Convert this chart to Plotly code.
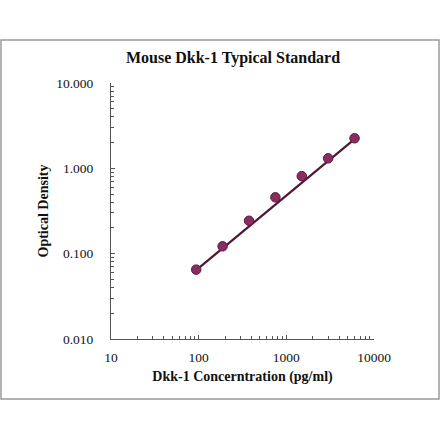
import plotly.graph_objects as go

# standard curve readings
conc = [93.75, 187.5, 375, 750, 1500, 3000, 6000]
od = [0.065, 0.122, 0.243, 0.457, 0.81, 1.31, 2.25]

# fitted line end points
fit_conc = [93.75, 6000]
fit_od = [0.064, 2.2]

serif = "Liberation Serif"
ink = "#555555"

fig = go.Figure()
fig.add_trace(go.Scatter(
    x=fit_conc, y=fit_od, mode="lines",
    line=dict(color="#4e1733", width=2.2),
    hoverinfo="skip", showlegend=False,
))
fig.add_trace(go.Scatter(
    x=conc, y=od, mode="markers",
    marker=dict(size=9.5, color="#8a2c5f", line=dict(color="#5a1a3c", width=1)),
    showlegend=False,
))

fig.update_xaxes(
    type="log", range=[1, 4], dtick=1, tickformat=".0f",
    showgrid=False, zeroline=False,
    showline=True, linecolor=ink, linewidth=1,
    ticks="inside", ticklen=4, tickcolor=ink,
    minor=dict(ticks="inside", ticklen=3, tickcolor=ink, showgrid=False),
    tickfont=dict(family=serif, size=13.5, color="#111"),
    ticklabelstandoff=6,
    title=dict(text="<b>Dkk-1 Concerntration (pg/ml)</b>",
               font=dict(family=serif, size=14, color="#111"), standoff=6),
)
fig.update_yaxes(
    type="log", range=[-2, 1], dtick=1, tickformat=".3f",
    showgrid=False, zeroline=False,
    showline=True, linecolor=ink, linewidth=1,
    ticks="inside", ticklen=4, tickcolor=ink,
    minor=dict(ticks="inside", ticklen=3, tickcolor=ink, showgrid=False),
    tickfont=dict(family=serif, size=13.5, color="#111"),
    ticklabelstandoff=14,
    title=dict(text="<b>Optical Density</b>",
               font=dict(family=serif, size=14, color="#111"), standoff=4),
)

fig.update_layout(
    width=440, height=441,
    margin=dict(l=111, r=66, t=83, b=102),
    paper_bgcolor="white", plot_bgcolor="white",
    title=dict(text="<b>Mouse Dkk-1 Typical Standard</b>",
               font=dict(family=serif, size=16, color="#111"),
               x=233 / 440, xanchor="center", y=1 - 57 / 441, yanchor="middle"),
)

# grey frame round the whole chart
fig.add_shape(type="rect", xref="paper", yref="paper",
              x0=-110 / 263, x1=328 / 263, y0=-60 / 256, y1=299 / 256,
              line=dict(color="#999999", width=1.5), layer="below")

# drop the page's default body margin so the figure sits at 0,0
fig.write_html("out.html", config={"displayModeBar": False},
               post_script="document.body.style.margin='0';")
